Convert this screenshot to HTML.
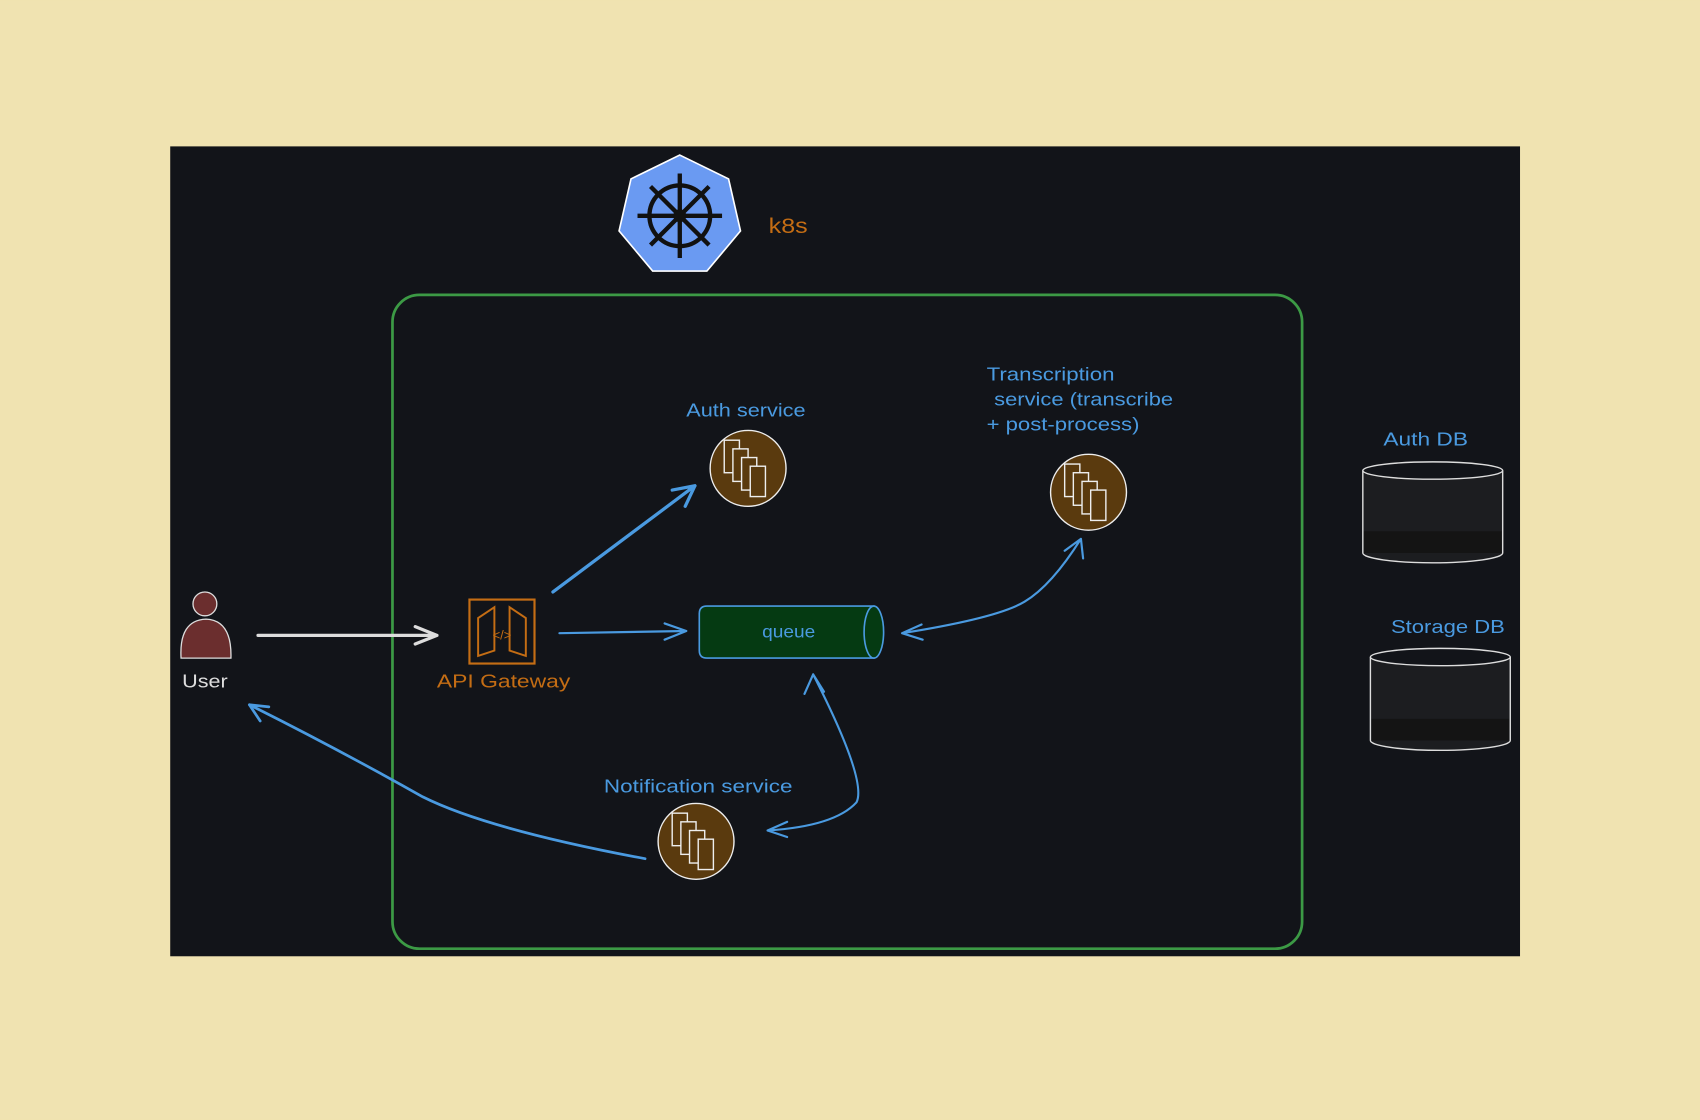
<!DOCTYPE html>
<html><head><meta charset="utf-8"><style>
html,body{margin:0;padding:0;background:#F0E3B1;}
svg{display:block}
text{font-family:"Liberation Sans","DejaVu Sans",sans-serif;}
</style></head><body>
<svg width="1700" height="1120" viewBox="0 0 1568 1033" xmlns="http://www.w3.org/2000/svg">
<rect width="1568" height="1033" fill="#F0E3B1"/>
<rect x="157" y="135" width="1245" height="747" fill="#121419"/>
<rect x="362" y="272" width="839" height="603" rx="25" fill="none" stroke="#3c9a45" stroke-width="2.5"/>
<!-- k8s -->
<polygon points="627,143 672,165 683,213 652,250 602,250 571,213 582,165" fill="#6a9af2" stroke="#fff" stroke-width="1.5"/>
<g stroke="#111" stroke-width="4" fill="none">
<circle cx="627" cy="199" r="28"/>
<line x1="627" y1="160" x2="627" y2="238"/><line x1="588" y1="199" x2="666" y2="199"/>
<line x1="600" y1="172" x2="654" y2="226"/><line x1="654" y1="172" x2="600" y2="226"/>
</g>
<circle cx="627" cy="199" r="6" fill="#111"/>
<text x="709" y="215" font-size="20" fill="#c46d14" textLength="36" lengthAdjust="spacingAndGlyphs">k8s</text>
<!-- services -->
<g fill="#5a3a0e" stroke="#eee" stroke-width="1.3">
<circle cx="690" cy="432" r="35"/><circle cx="1004" cy="454" r="35"/><circle cx="642" cy="776" r="35"/>
</g>
<g stroke="#eee" stroke-width="1.3" fill="#5a3a0e">
<g transform="translate(690,432)"><rect x="-22" y="-26" width="14" height="30"/><rect x="-14" y="-18" width="14" height="30"/><rect x="-6" y="-10" width="14" height="30"/><rect x="2" y="-2" width="14" height="28"/></g>
<g transform="translate(1004,454)"><rect x="-22" y="-26" width="14" height="30"/><rect x="-14" y="-18" width="14" height="30"/><rect x="-6" y="-10" width="14" height="30"/><rect x="2" y="-2" width="14" height="28"/></g>
<g transform="translate(642,776)"><rect x="-22" y="-26" width="14" height="30"/><rect x="-14" y="-18" width="14" height="30"/><rect x="-6" y="-10" width="14" height="30"/><rect x="2" y="-2" width="14" height="28"/></g>
</g>
<g font-size="17" fill="#4a9ae0" lengthAdjust="spacingAndGlyphs">
<text x="633" y="384" textLength="110" lengthAdjust="spacingAndGlyphs">Auth service</text>
<text x="910" y="351" textLength="118" lengthAdjust="spacingAndGlyphs">Transcription</text>
<text x="917" y="374" textLength="165" lengthAdjust="spacingAndGlyphs">service (transcribe</text>
<text x="910" y="397" textLength="141" lengthAdjust="spacingAndGlyphs">+ post-process)</text>
<text x="1276" y="411" textLength="78" lengthAdjust="spacingAndGlyphs">Auth DB</text>
<text x="1283" y="584" textLength="105" lengthAdjust="spacingAndGlyphs">Storage DB</text>
<text x="557" y="731" textLength="174" lengthAdjust="spacingAndGlyphs">Notification service</text>
</g>
<!-- DBs -->
<g stroke="#ddd" stroke-width="1.3">
<path d="M1257,434 V510 A64,9 0 0 0 1386,510 V434" fill="#1c1d20"/>
<rect x="1258" y="490" width="127" height="20" fill="#141414" stroke="none"/>
<ellipse cx="1321.5" cy="434" rx="64.5" ry="8" fill="#121419"/>
<path d="M1264,606 V683 A64,9 0 0 0 1393,683 V606" fill="#1c1d20"/>
<rect x="1265" y="663" width="127" height="20" fill="#141414" stroke="none"/>
<ellipse cx="1328.5" cy="606" rx="64.5" ry="8" fill="#121419"/>
</g>
<!-- user -->
<circle cx="189" cy="557" r="11" fill="#6b2e2e" stroke="#ddd" stroke-width="1.2"/>
<path d="M167,607 Q165,572 190,571 Q214,572 213,607 Z" fill="#6b2e2e" stroke="#ddd" stroke-width="1.2"/>
<text x="168" y="634" font-size="17" fill="#ddd" textLength="42" lengthAdjust="spacingAndGlyphs">User</text>
<!-- API gateway -->
<rect x="433" y="553" width="60" height="59" fill="none" stroke="#c46d14" stroke-width="2"/>
<path d="M441,570 V605 L456,600 V560 Z M485,570 V605 L470,600 V560 Z" fill="none" stroke="#c46d14" stroke-width="1.8"/>
<text x="463" y="590" font-size="12" fill="#c46d14" text-anchor="middle">&lt;/&gt;</text>
<text x="403" y="634" font-size="17" fill="#c46d14" textLength="123" lengthAdjust="spacingAndGlyphs">API Gateway</text>
<!-- queue -->
<path d="M652,559 H806 V607 H652 Q645,607 645,600 V566 Q645,559 652,559 Z" fill="#053a12" stroke="#4a9ae0" stroke-width="1.5"/>
<ellipse cx="806" cy="583" rx="9" ry="24" fill="#053a12" stroke="#4a9ae0" stroke-width="1.5"/>
<text x="703" y="588" font-size="16" fill="#4a9ae0" textLength="49" lengthAdjust="spacingAndGlyphs">queue</text>
<!-- arrows -->
<g fill="none" stroke-linecap="round" stroke-linejoin="round">
<path d="M238,586 H403 M383,578 L403,586 L383,594" stroke="#ddd" stroke-width="3"/>
<path d="M510,546 L641,448 M620,452 L641,448 L632,467" stroke="#4a9ae0" stroke-width="3"/>
<path d="M516,584 L633,582 M613,575 L633,582 L613,590" stroke="#4a9ae0" stroke-width="2"/>
<path d="M832,584 Q920,570 945,555 Q970,540 997,497 M832,584 L850,576 M832,584 L851,590 M997,497 L982,508 M997,497 L999,515" stroke="#4a9ae0" stroke-width="2"/>
<path d="M750,622 Q800,720 790,740 Q770,762 708,766 M750,622 L742,640 M750,622 L760,638 M708,766 L726,758 M708,766 L726,772" stroke="#4a9ae0" stroke-width="2"/>
<path d="M595,792 Q450,765 390,735 Q310,690 230,650 M230,650 L248,652 M230,650 L240,665" stroke="#4a9ae0" stroke-width="2.5"/>
</g>
</svg>
</body></html>
